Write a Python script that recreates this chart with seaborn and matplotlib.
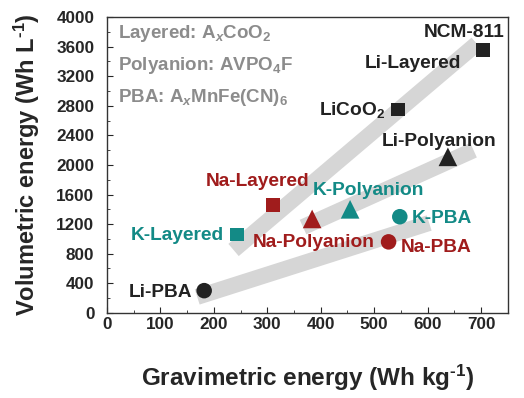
import pandas as pd
import seaborn as sns
import matplotlib.pyplot as plt
from matplotlib.ticker import MultipleLocator

# materials (Wh/kg, Wh/L)
names = ["NCM-811", "LiCoO2", "Li-Polyanion", "Li-PBA",
         "Na-Layered", "Na-Polyanion", "Na-PBA",
         "K-Layered", "K-Polyanion", "K-PBA"]
ions = ["Li", "Li", "Li", "Li", "Na", "Na", "Na", "K", "K", "K"]
structures = ["Layered", "Layered", "Polyanion", "PBA",
              "Layered", "Polyanion", "PBA",
              "Layered", "Polyanion", "PBA"]
grav = [703, 545, 638, 182, 310, 384, 527, 243, 455, 548]
vol = [3560, 2750, 2110, 300, 1460, 1270, 960, 1060, 1400, 1300]

# grey trend bands (start, end)
band_layered_x = [237, 692]
band_layered_y = [850, 3640]
band_poly_x = [367, 686]
band_poly_y = [1160, 2200]
band_pba_x = [169, 603]
band_pba_y = [215, 1215]

# label text, anchor position
label_text = ["NCM-811", "Li-Layered", "LiCoO$_2$", "Li-Polyanion",
              "Na-Layered", "K-Polyanion", "K-PBA", "Na-PBA",
              "Na-Polyanion", "K-Layered", "Li-PBA"]
label_x = [668, 573, 521, 621, 282, 490, 571, 549, 386, 219, 160]
label_y = [3790, 3370, 2740, 2320, 1770, 1660, 1270, 890, 945, 1040, 270]
label_ion = ["Li", "Li", "Li", "Li", "Na", "K", "K", "Na", "Na", "K", "Li"]
label_ha = ["center", "center", "right", "center", "center", "center",
            "left", "left", "center", "right", "right"]

colors = {"Li": "#222222", "Na": "#a01c1c", "K": "#138a86"}
markers = {"Layered": "s", "Polyanion": "^", "PBA": "o"}
sizes = {"Layered": 100, "Polyanion": 180, "PBA": 125}

df = pd.DataFrame({"name": names, "ion": ions, "structure": structures,
                   "grav": grav, "vol": vol})

sns.set_style("ticks")
plt.rcParams["font.family"] = ["Liberation Sans", "DejaVu Sans"]
plt.rcParams["font.weight"] = "bold"
plt.rcParams["mathtext.fontset"] = "custom"
plt.rcParams["mathtext.rm"] = "Liberation Sans:bold"
plt.rcParams["mathtext.bf"] = "Liberation Sans:bold"
plt.rcParams["mathtext.it"] = "Liberation Sans:bold:italic"
plt.rcParams["mathtext.default"] = "rm"
plt.rcParams["axes.unicode_minus"] = False

fig = plt.figure(figsize=(5.24, 3.98), dpi=100)
ax = fig.add_axes([0.204, 0.214, 0.765, 0.743])

for bx, by in [(band_layered_x, band_layered_y),
               (band_poly_x, band_poly_y),
               (band_pba_x, band_pba_y)]:
    ax.plot(bx, by, color="#d6d6d6", lw=11.5, solid_capstyle="butt", zorder=1)

sns.scatterplot(data=df, x="grav", y="vol", hue="ion", style="structure",
                size="structure", sizes=sizes,
                palette=colors, markers=markers, edgecolor="none",
                legend=False, ax=ax, zorder=3)

for t, x, y, ion, ha in zip(label_text, label_x, label_y, label_ion, label_ha):
    ax.text(x, y, t, color=colors[ion], ha=ha, va="center",
            fontsize=13.8, fontweight="bold")

legend_lines = ["Layered: A$_{\\mathit{x}}$CoO$_2$", "Polyanion: AVPO$_4$F",
                "PBA: A$_{\\mathit{x}}$MnFe(CN)$_6$"]
for i, line in enumerate(legend_lines):
    ax.text(0.027, 0.945 - 0.108 * i, line, transform=ax.transAxes,
            color="#8c8c8c", fontsize=13.5, fontweight="bold", va="center")

ax.set_xlim(0, 750)
ax.set_ylim(0, 4000)
ax.xaxis.set_major_locator(MultipleLocator(100))
ax.xaxis.set_minor_locator(MultipleLocator(50))
ax.yaxis.set_major_locator(MultipleLocator(400))
ax.yaxis.set_minor_locator(MultipleLocator(200))
ax.tick_params(which="both", direction="in", labelsize=12.3)
ax.tick_params(axis="y", pad=9)
ax.tick_params(axis="x", pad=3)
ax.tick_params(which="major", length=4)
ax.tick_params(which="minor", length=2)
for lab in ax.get_xticklabels() + ax.get_yticklabels():
    lab.set_fontweight("bold")
for sp in ax.spines.values():
    sp.set_linewidth(1)
    sp.set_color("#333333")

ax.set_xlabel("Gravimetric energy (Wh kg$^{\\text{-1}}$)", fontsize=17.5,
              fontweight="bold", labelpad=22)
ax.set_ylabel("Volumetric energy (Wh L$^{\\text{-1}}$)", fontsize=17,
              fontweight="bold", labelpad=10)

plt.savefig("out.png", dpi=100)
